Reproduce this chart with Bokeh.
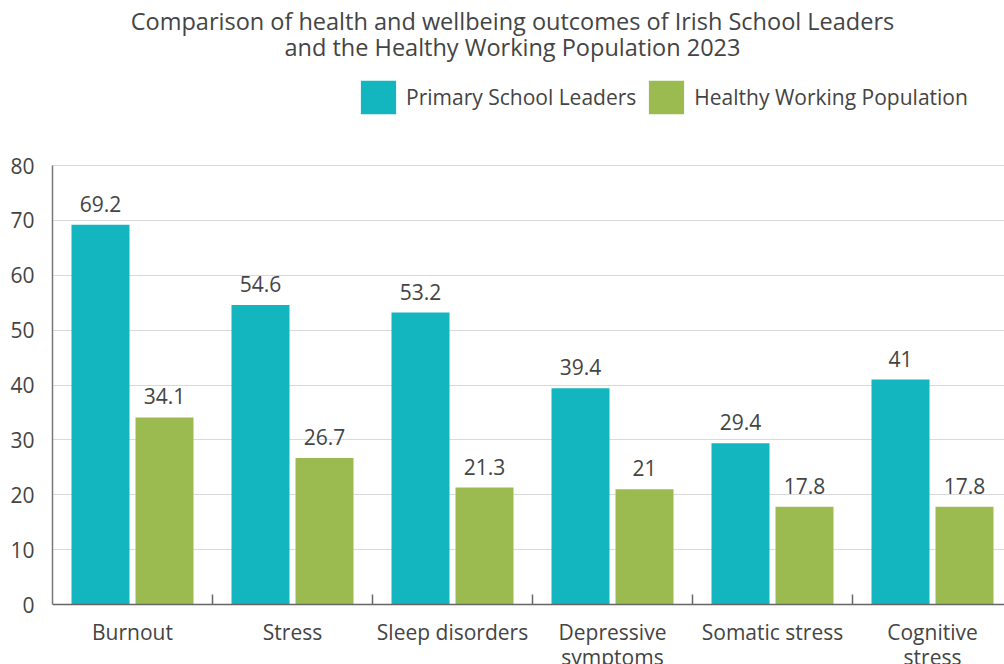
import math
from bokeh.plotting import figure
from bokeh.models import (ColumnDataSource, FixedTicker, Legend, LegendItem, Label, Range1d, Span)
from bokeh.embed import file_html
from bokeh.resources import INLINE
from bokeh.core.properties import value

categories = ["Burnout", "Stress", "Sleep disorders", "Depressive\nsymptoms", "Somatic stress", "Cognitive\nstress"]
leaders = [69.2, 54.6, 53.2, 39.4, 29.4, 41]
healthy = [34.1, 26.7, 21.3, 21, 17.8, 17.8]
series_names = ["Primary School Leaders", "Healthy Working Population"]
y_ticks = [0, 10, 20, 30, 40, 50, 60, 70, 80]
title_lines = ["Comparison of health and wellbeing outcomes of Irish School Leaders",
               "and the Healthy Working Population 2023"]

TEAL = "#13B5BE"
GREEN = "#9BBB50"
TXT = "#444444"
AX = "#666666"
FONT = "Open Sans"
FS = "21px"

W, H = 1004, 664
LEFT = 52
FRAME_W = W - LEFT
CAT_PX = 160
TOP80, BASE = 165, 604
ppu = (BASE - TOP80) / 80.0

n = len(categories)
centers = [i + 0.5 for i in range(n)]
bounds_x = list(range(1, n))
src1 = ColumnDataSource(dict(x=[c - 0.2 for c in centers], top=leaders, lab=[f"{v:g}" for v in leaders]))
src2 = ColumnDataSource(dict(x=[c + 0.2 for c in centers], top=healthy, lab=[f"{v:g}" for v in healthy]))

p = figure(width=W, height=H, output_backend="svg", toolbar_location=None, title=None,
           x_range=Range1d(0, FRAME_W / CAT_PX),
           y_range=Range1d(-(H - BASE) / ppu, 80 + TOP80 / ppu),
           min_border_left=LEFT, min_border_right=0, min_border_bottom=0, min_border_top=0)
p.outline_line_color = None
p.xaxis.visible = False

r1 = p.vbar(x="x", top="top", width=0.3625, source=src1, color=TEAL, line_color=None)
r2 = p.vbar(x="x", top="top", width=0.3625, source=src2, color=GREEN, line_color=None)

for s in (src1, src2):
    p.text(x="x", y="top", text="lab", source=s, y_offset=-13, text_align="center",
           text_baseline="bottom", text_font=value(FONT), text_font_size=FS, text_color=TXT)

# y axis
p.yaxis.ticker = FixedTicker(ticks=y_ticks)
p.yaxis.bounds = (y_ticks[0], y_ticks[-1])
p.yaxis.major_tick_line_color = None
p.yaxis.minor_tick_line_color = None
p.yaxis.axis_line_color = "#777777"
p.yaxis.axis_line_width = 1.5
p.yaxis.major_label_text_font = FONT
p.yaxis.major_label_text_font_size = FS
p.yaxis.major_label_text_color = TXT
p.yaxis.major_label_standoff = 12

p.xgrid.grid_line_color = None
p.ygrid.grid_line_color = "#d9d9d9"
p.ygrid.grid_line_width = 1.2

# x baseline, boundary ticks and category labels
p.add_layout(Span(location=0, dimension="width", line_color=AX, line_width=1.5))
p.ray(x=bounds_x, y=[0] * len(bounds_x), length=10, length_units="screen", angle=math.pi / 2,
      line_color=AX, line_width=1.5)
p.text(x=centers, y=[0] * n, text=categories, y_offset=13, text_align="center", text_baseline="top",
       text_font=value(FONT), text_font_size=FS, text_color=TXT, text_line_height=0.9)

legend = Legend(items=[LegendItem(label=series_names[0], renderers=[r1]),
                       LegendItem(label=series_names[1], renderers=[r2])],
                orientation="horizontal", location=(304, H - 118),
                glyph_width=44, glyph_height=42, label_standoff=6, spacing=8,
                label_text_font=FONT, label_text_font_size=FS, label_text_color=TXT,
                border_line_color=None, background_fill_alpha=0,
                padding=0, margin=0)
p.add_layout(legend, "center")

for line, yy in zip(title_lines, [20, 46]):
    p.add_layout(Label(x=512 - LEFT, y=H - yy, x_units="screen", y_units="screen", text=line,
                       text_align="center", text_baseline="middle",
                       text_font=FONT, text_font_size="23.5px", text_color=TXT))

open("out.html", "w").write(file_html(p, INLINE))
